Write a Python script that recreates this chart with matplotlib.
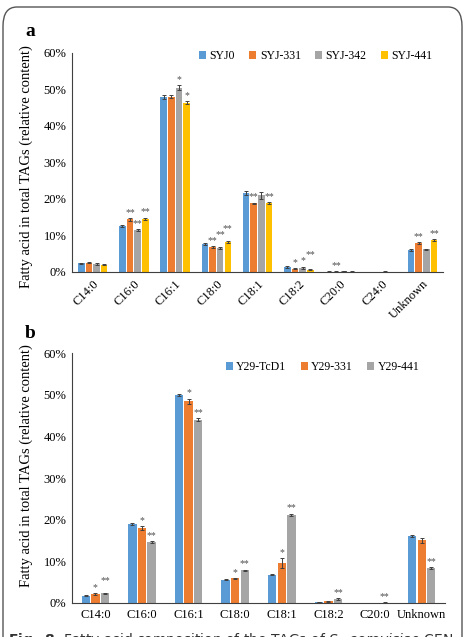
import numpy as np
import matplotlib
matplotlib.use("Agg")
import matplotlib.pyplot as plt
from matplotlib.patches import FancyBboxPatch

plt.rcParams['font.family'] = ['Liberation Serif', 'DejaVu Serif']

# panel a data
fa_a = ['C14:0', 'C16:0', 'C16:1', 'C18:0', 'C18:1', 'C18:2', 'C20:0', 'C24:0', 'Unknown']
strains_a = ['SYJ0', 'SYJ-331', 'SYJ-342', 'SYJ-441']
syj0 = [2.4, 12.6, 48.0, 7.6, 21.7, 1.4, 0.1, 0.05, 6.0]
syj331 = [2.6, 14.4, 48.0, 6.9, 18.8, 0.9, 0.1, 0.0, 7.9]
syj342 = [2.1, 11.5, 50.5, 6.6, 21.0, 1.2, 0.3, 0.1, 6.2]
syj441 = [2.0, 14.6, 46.3, 8.2, 18.9, 0.6, 0.1, 0.0, 8.8]
err_a = [[0.2, 0.2, 0.5, 0.3, 0.5, 0.2, 0.05, 0.02, 0.3],
         [0.2, 0.3, 0.4, 0.2, 0.2, 0.2, 0.05, 0.0, 0.3],
         [0.3, 0.3, 0.6, 0.2, 0.9, 0.3, 0.1, 0.05, 0.2],
         [0.2, 0.3, 0.4, 0.2, 0.3, 0.1, 0.05, 0.0, 0.3]]
stars_a = [['', '', '', '', '', '', '', '', ''],
           ['', '**', '', '**', '**', '*', '**', '', '**'],
           ['', '**', '*', '**', '', '*', '', '', ''],
           ['', '**', '*', '**', '**', '**', '', '', '**']]

# panel b data
fa_b = ['C14:0', 'C16:0', 'C16:1', 'C18:0', 'C18:1', 'C18:2', 'C20:0', 'Unknown']
strains_b = ['Y29-TcD1', 'Y29-331', 'Y29-441']
tcd1 = [1.7, 19.0, 50.0, 5.6, 6.8, 0.2, 0.05, 16.1]
y331 = [2.1, 17.9, 48.4, 5.9, 9.6, 0.4, 0.05, 15.0]
y441 = [2.3, 14.7, 44.0, 7.8, 21.1, 1.0, 0.1, 8.4]
err_b = [[0.1, 0.2, 0.2, 0.1, 0.1, 0.05, 0.02, 0.2],
         [0.2, 0.5, 0.6, 0.1, 1.2, 0.1, 0.02, 0.7],
         [0.1, 0.2, 0.3, 0.2, 0.3, 0.2, 0.05, 0.2]]
stars_b = [['', '', '', '', '', '', '', ''],
           ['*', '*', '*', '*', '*', '', '', ''],
           ['**', '**', '**', '**', '**', '**', '**', '**']]

colors = ['#5B9BD5', '#ED7D31', '#A5A5A5', '#FFC000']
yticks = [0, 10, 20, 30, 40, 50, 60]


def draw(ax, cats, names, series, errs, stars, width, step):
    x = np.arange(len(cats))
    n = len(series)
    last = [None] * len(cats)  # height of previous star label in each group
    for i, (vals, e) in enumerate(zip(series, errs)):
        pos = x + (i - (n - 1) / 2) * step
        ax.bar(pos, vals, width, color=colors[i], label=names[i], zorder=2)
        ax.errorbar(pos, vals, yerr=e, fmt='none', ecolor='#404040',
                    elinewidth=0.7, capsize=1.5, capthick=0.7, zorder=3)
        for k, (p, v, ee, s) in enumerate(zip(pos, vals, e, stars[i])):
            if s:
                y = v + ee + 0.3
                # stagger labels that would collide with the neighbour
                if last[k] is not None and abs(y - last[k]) < 1.5 and len(s) == 2:
                    y = last[k] + 1.6
                ax.text(p, y, s, ha='center', va='bottom',
                        fontsize=7, color='#505050')
                last[k] = y
            else:
                last[k] = None
    ax.set_ylim(0, 60)
    ax.set_xlim(-0.5, len(cats) - 0.5)
    ax.set_yticks(yticks)
    ax.set_yticklabels([f'{t}%' for t in yticks], fontsize=9)
    ax.set_xticks(x)
    ax.tick_params(length=0, pad=4)
    for s in ['top', 'right']:
        ax.spines[s].set_visible(False)
    ax.spines['left'].set_color('#404040')
    ax.spines['bottom'].set_color('#404040')
    ax.spines['left'].set_linewidth(0.8)
    ax.spines['bottom'].set_linewidth(0.8)
    ax.set_ylabel('Fatty acid in total TAGs (relative content)', fontsize=10.5)
    return x


fig = plt.figure(figsize=(4.65, 6.37), dpi=100)

ax1 = fig.add_axes([0.155, 0.573, 0.798, 0.344])
draw(ax1, fa_a, strains_a, [syj0, syj331, syj342, syj441], err_a, stars_a, 0.16, 0.185)
ax1.set_xticklabels(fa_a, rotation=45, fontsize=9, ha='right', rotation_mode='anchor')
ax1.legend(loc='upper right', bbox_to_anchor=(1.0, 1.06), ncol=4, frameon=False,
           fontsize=8.5, handlelength=0.6, handleheight=0.6, handletextpad=0.3,
           columnspacing=1.2)
ax1.yaxis.set_label_coords(-0.105, 0.48)

ax2 = fig.add_axes([0.155, 0.0534, 0.802, 0.3924])
draw(ax2, fa_b, strains_b, [tcd1, y331, y441], err_b, stars_b, 0.18, 0.205)
ax2.set_xticklabels(fa_b, fontsize=9)
ax2.legend(loc='upper right', bbox_to_anchor=(0.96, 1.01), ncol=3, frameon=False,
           fontsize=8.5, handlelength=0.6, handleheight=0.6, handletextpad=0.3,
           columnspacing=1.2)
ax2.yaxis.set_label_coords(-0.105, 0.55)

fig.text(25 / 465, 1 - 32 / 637, 'a', fontsize=14, fontweight='bold', ha='left', va='center')
fig.text(25 / 465, 1 - 333 / 637, 'b', fontsize=14, fontweight='bold', ha='left', va='center')

# frame and cut-off caption
frame = FancyBboxPatch((3 / 465, -0.05), 459 / 465, 1.05 - 7 / 637,
                       boxstyle='round,pad=0,rounding_size=0.03',
                       transform=fig.transFigure, fill=False,
                       edgecolor='#555555', linewidth=1.0)
fig.patches.append(frame)
fig.text(8 / 465, 1 - 631 / 637, r'$\bf{Fig.\ 8}$  Fatty acid composition of the TAGs of $\it{S.\ cerevisiae}$ CEN',
         fontsize=10, va='top', ha='left', family='DejaVu Sans', color='#333333')

fig.savefig('out.png', dpi=100)
